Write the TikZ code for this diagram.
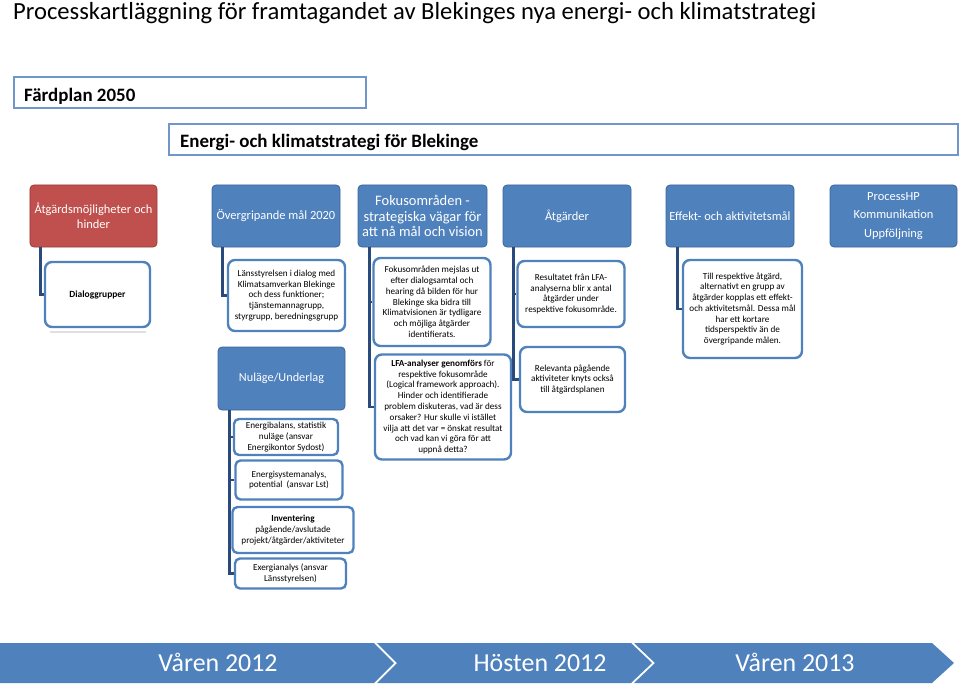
\documentclass[tikz,border=0pt]{standalone}
\usepackage{fontspec}
\setmainfont{Carlito}
\usetikzlibrary{calc}
\definecolor{accent}{HTML}{4F81BD}
\definecolor{accentdark}{HTML}{3C6699}
\definecolor{redfill}{HTML}{C0504D}
\definecolor{reddark}{HTML}{9A3D3A}
\definecolor{linecol}{HTML}{2B4A7C}
\definecolor{frameblue}{HTML}{7096CB}
\begin{document}
\begin{tikzpicture}[x=1bp,y=-1bp,
  hdr/.style={rectangle, rounded corners=4bp, fill=accent, draw=accentdark, line width=0.8bp,
    text=white, align=center, inner sep=2bp, minimum height=62bp,
    font=\fontsize{12.5}{15}\selectfont},
  redhdr/.style={hdr, fill=redfill, draw=reddark},
  child/.style={rectangle, rounded corners=7bp, draw=accent, line width=2.4bp, fill=white,
    align=center, inner sep=1bp, font=\fontsize{9.2}{10.8}\selectfont},
  conn/.style={draw=linecol, line width=2.6bp},
  topframe/.style={rectangle, draw=frameblue, line width=1.4bp, inner sep=0pt},
  chev/.style={fill=accent},
  chevtext/.style={text=white, font=\fontsize{26}{30}\selectfont}
]
\useasboundingbox (0,0) rectangle (960,687);

% title
\node[anchor=base west, inner sep=0pt, font=\fontsize{24.7}{29}\selectfont] (title) at (13,20)
  {Processkartläggning för framtagandet av Blekinges nya energi- och klimatstrategi};

% top frames
\node[topframe, minimum width=352bp, minimum height=31bp] (fard) at (190,92.5) {};
\node[anchor=base west, inner sep=0pt, font=\bfseries\fontsize{19}{22}\selectfont] (fardt) at (24,102) {Färdplan 2050};
\node[topframe, minimum width=789bp, minimum height=31bp] (ek) at (563.5,139.5) {};
\node[anchor=base west, inner sep=0pt, font=\bfseries\fontsize{19}{22}\selectfont] (ekt) at (180,148) {Energi- och klimatstrategi för Blekinge};

% headers
\node[redhdr, minimum width=127bp] (h1) at (93.5,216) {Åtgärdsmöjligheter och\\hinder};
\node[hdr, minimum width=128bp] (h2) at (276,216) {Övergripande mål 2020};
\node[hdr, minimum width=129bp, font=\fontsize{14.5}{15.6}\selectfont] (h3) at (422.5,216) {Fokusområden -\\strategiska vägar för\\att nå mål och vision};
\node[hdr, minimum width=128bp] (h4) at (567,216) {Åtgärder};
\node[hdr, minimum width=128bp] (h5) at (730,216) {Effekt- och aktivitetsmål};
\node[hdr, minimum width=127bp, font=\fontsize{12.5}{18.5}\selectfont] (h6) at (893.5,216) {ProcessHP\\Kommunikation\\Uppföljning};

% child boxes
\node[child, minimum width=105bp, minimum height=65bp, font=\bfseries\fontsize{9.5}{11}\selectfont] (dlg) at (97.5,294.5) {Dialoggrupper};
\node[child, minimum width=117bp, minimum height=71bp] (lans) at (286.5,295.5)
  {Länsstyrelsen i dialog med\\Klimatsamverkan Blekinge\\och dess funktioner;\\tjänstemannagrupp,\\styrgrupp, beredningsgrupp};
\node[child, minimum width=117bp, minimum height=88bp] (fok) at (432,302)
  {Fokusområden mejslas ut\\efter dialogsamtal och\\hearing då bilden för hur\\Blekinge ska bidra till\\Klimatvisionen är tydligare\\och möjliga åtgärder\\identifierats.};
\node[child, minimum width=107bp, minimum height=66bp] (res) at (571,294)
  {Resultatet från LFA-\\analyserna blir x antal\\åtgärder under\\respektive fokusområde.};
\node[child, minimum width=119bp, minimum height=98bp] (till) at (742.5,309)
  {Till respektive åtgärd,\\alternativt en grupp av\\åtgärder kopplas ett effekt-\\och aktivitetsmål. Dessa mål\\har ett kortare\\tidsperspektiv än de\\övergripande målen.};
\node[hdr, minimum width=127bp, minimum height=63bp, font=\fontsize{12.3}{15}\selectfont] (nul) at (281.5,378.5) {Nuläge/Underlag};
\node[child, minimum width=136bp, minimum height=105bp] (lfa) at (443,407)
  {\textbf{LFA-analyser genomförs} för\\respektive fokusområde\\(Logical framework approach).\\Hinder och identifierade\\problem diskuteras, vad är dess\\orsaker? Hur skulle vi istället\\vilja att det var = önskat resultat\\och vad kan vi göra för att\\uppnå detta?};
\node[child, minimum width=105bp, minimum height=65bp] (rel) at (572.5,379.5)
  {Relevanta pågående\\aktiviteter knyts också\\till åtgärdsplanen};
\node[child, minimum width=104bp, minimum height=36bp, rounded corners=5bp] (eb) at (286,437)
  {Energibalans, statistik\\nuläge (ansvar\\Energikontor Sydost)};
\node[child, minimum width=107bp, minimum height=39bp, rounded corners=5bp] (es) at (289,480)
  {Energisystemanalys,\\potential~ (ansvar Lst)};
\node[child, minimum width=121bp, minimum height=46bp, rounded corners=5bp] (inv) at (293,530)
  {\textbf{Inventering}\\pågående/avslutade\\projekt/åtgärder/aktiviteter};
\node[child, minimum width=111bp, minimum height=30bp, rounded corners=5bp] (ex) at (290.5,573.5)
  {Exergianalys (ansvar\\Länsstyrelsen)};

% faint shadow under Dialoggrupper
\coordinate (shA) at ($(dlg.south west)+(6,4)$);
\coordinate (shB) at ($(dlg.south east)+(-5,4)$);
\draw[black!12, line width=1.5bp] (shA) -- (shB);

% connectors
\draw[conn] ($(h1.south west)+(11,0)$) |- (dlg.west);
\draw[conn] ($(h2.south west)+(11,0)$) |- (lans.west);
\draw[conn] ($(h3.south west)+(12,0)$) |- (fok.west);
\draw[conn] ($(h3.south west)+(12,0)$) |- (lfa.west);
\draw[conn] ($(h4.south west)+(11,0)$) |- (res.west);
\draw[conn] ($(h4.south west)+(11,0)$) |- (rel.west);
\draw[conn] ($(h5.south west)+(12,0)$) |- (till.west);
\draw[conn] ($(nul.south west)+(12,0)$) |- (eb.west);
\draw[conn] ($(nul.south west)+(12,0)$) |- (es.west);
\draw[conn] ($(nul.south west)+(12,0)$) |- (inv.west);
\draw[conn] ($(nul.south west)+(12,0)$) |- (ex.west);

% timeline chevrons
\fill[chev] (0,643) -- (374,643) -- (394,663) -- (374,683) -- (0,683) -- cycle;
\fill[chev] (377,643) -- (631,643) -- (652,663) -- (631,683) -- (377,683) -- (397,663) -- cycle;
\fill[chev] (634,643) -- (932,643) -- (954,663) -- (932,683) -- (634,683) -- (655,663) -- cycle;
\node[chevtext, anchor=base] (t1) at (218,671) {Våren 2012};
\node[chevtext, anchor=base] (t2) at (540,671) {Hösten 2012};
\node[chevtext, anchor=base] (t3) at (795,671) {Våren 2013};
\end{tikzpicture}
\end{document}
